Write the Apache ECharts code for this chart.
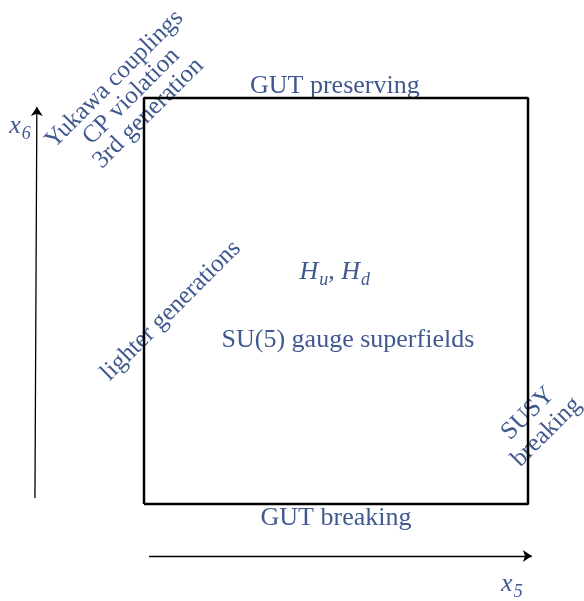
<!DOCTYPE html>
<html><head><meta charset="utf-8">
<script src="https://cdn.jsdelivr.net/npm/echarts@6/dist/echarts.min.js"></script>
<style>html,body{margin:0;padding:0;background:#fff}#c{width:584px;height:601px}</style>
</head><body><div id="c"></div>
<script>
// Diagram coordinates: box spans x5 in [0,1], x6 in [0,1]
const boxX = [0, 1, 1, 0, 0];
const boxY = [0, 0, 1, 1, 0];
const arrowX5 = [[0.013, -0.128], [1.010, -0.128]];
const arrowX6 = [[-0.284, 0.015], [-0.279, 0.978]];
const labelTexts = ['GUT preserving', 'GUT breaking', 'SU(5) gauge superfields', 'lighter generations',
  'Yukawa couplings\nCP violation\n3rd generation', 'SUSY\nbreaking'];
const labelX = [0.497, 0.500, 0.531, 0.070, -0.033, 1.024];
const labelY = [1.030, -0.034, 0.404, 0.476, 1.004, 0.200];
const labelAngle = [0, 0, 0, 45, 45, 45];
const labelSize = [26, 26, 26, 25, 25, 25];
const labelLine = [27, 27, 27, 27, 24, 26];
const mathTexts = ['{i|H}{s|u}{i|, H}{s|d}', '{i|x}{s|6}', '{i|x}{s|5}'];
const mathX = [0.497, -0.323, 0.958];
const mathY = [0.571, 0.930, -0.198];

const navy = '#0f2e72';
const serif = 'Liberation Serif';
const chart = echarts.init(document.getElementById('c'), null, {renderer: 'canvas'});

const textData = labelTexts.map((t, i) => ({
  value: [labelX[i], labelY[i]],
  label: {formatter: t, rotate: labelAngle[i], fontSize: labelSize[i], lineHeight: labelLine[i]}
}));
const mathData = mathTexts.map((t, i) => ({
  value: [mathX[i], mathY[i]],
  label: {formatter: t}
}));

chart.setOption({
  animation: false,
  backgroundColor: '#fff',
  grid: {left: 144, right: 56, top: 98, bottom: 97},
  xAxis: {type: 'value', min: 0, max: 1, show: false},
  yAxis: {type: 'value', min: 0, max: 1, show: false},
  series: [
    {
      type: 'line', clip: false, symbol: 'none',
      data: boxX.map((x, i) => [x, boxY[i]]),
      lineStyle: {color: '#000', width: 2.5}
    },
    {
      type: 'lines', coordinateSystem: 'cartesian2d', clip: false,
      symbol: ['none', 'arrow'], symbolSize: 9,
      lineStyle: {color: '#000', width: 1.3, opacity: 1, curveness: 0},
      data: [{coords: arrowX5}, {coords: arrowX6}]
    },
    {
      type: 'scatter', clip: false, symbolSize: 0,
      data: textData,
      label: {show: true, position: 'inside', color: navy, fontFamily: serif, fontSize: 26,
        lineHeight: 27, align: 'center', verticalAlign: 'middle'}
    },
    {
      type: 'scatter', clip: false, symbolSize: 0,
      data: mathData,
      label: {show: true, position: 'inside', color: navy, align: 'center', verticalAlign: 'middle',
        rich: {
          i: {fontFamily: serif, fontStyle: 'italic', fontSize: 26, color: navy, verticalAlign: 'bottom', lineHeight: 26},
          s: {fontFamily: serif, fontStyle: 'italic', fontSize: 18, color: navy, verticalAlign: 'bottom', lineHeight: 20, padding: [0, 0, -4, 1]}
        }}
    }
  ]
});
</script></body></html>
